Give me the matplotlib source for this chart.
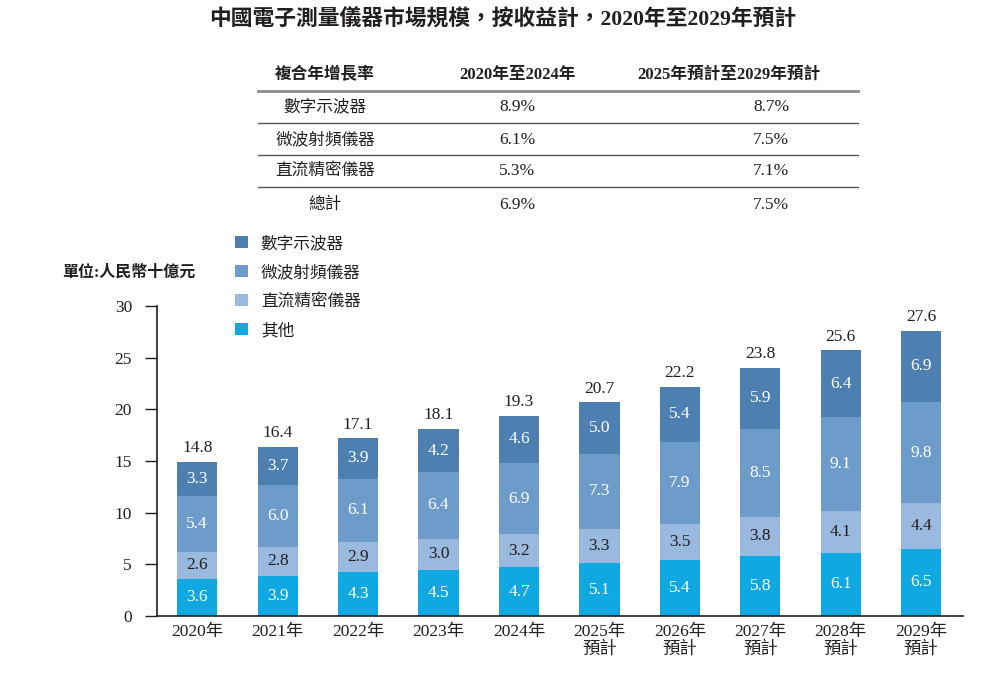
import matplotlib
matplotlib.use("Agg")
import matplotlib.pyplot as plt
from matplotlib.lines import Line2D
import numpy as np

FAM = ['Liberation Serif', 'Noto Sans CJK TC', 'DejaVu Sans']
plt.rcParams['font.family'] = FAM

years = ["2020年", "2021年", "2022年", "2023年", "2024年",
         "2025年\n預計", "2026年\n預計", "2027年\n預計", "2028年\n預計", "2029年\n預計"]
others = [3.6, 3.9, 4.3, 4.5, 4.7, 5.1, 5.4, 5.8, 6.1, 6.5]
dc_precision = [2.6, 2.8, 2.9, 3.0, 3.2, 3.3, 3.5, 3.8, 4.1, 4.4]
rf_microwave = [5.4, 6.0, 6.1, 6.4, 6.9, 7.3, 7.9, 8.5, 9.1, 9.8]
oscilloscope = [3.3, 3.7, 3.9, 4.2, 4.6, 5.0, 5.4, 5.9, 6.4, 6.9]
totals = [14.8, 16.4, 17.1, 18.1, 19.3, 20.7, 22.2, 23.8, 25.6, 27.6]

series_names = ["其他", "直流精密儀器", "微波射頻儀器", "數字示波器"]
colors = ["#0fa8e0", "#9ab9de", "#6e9cca", "#4d7fb0"]
text_colors = ["white", "#231f20", "white", "white"]

table_header = ["複合年增長率", "2020年至2024年", "2025年預計至2029年預計"]
table_rows = ["數字示波器", "微波射頻儀器", "直流精密儀器", "總計"]
cagr_hist = ["8.9%", "6.1%", "5.3%", "6.9%"]
cagr_fcst = ["8.7%", "7.5%", "7.1%", "7.5%"]

W, H = 999, 674
fig = plt.figure(figsize=(W / 100, H / 100), dpi=100)
TXT = "#231f20"

def fx(px):
    return px / W

def fy(py):
    return 1 - py / H

ax = fig.add_axes([fx(157), fy(616), fx(963) - fx(157), fy(306) - fy(616)])

x = np.arange(len(years))
bottom = np.zeros(len(years))
containers = []
for vals, name, col, tc in zip([others, dc_precision, rf_microwave, oscilloscope],
                               series_names, colors, text_colors):
    v = np.array(vals)
    bc = ax.bar(x, v, width=0.5, bottom=bottom, color=col, label=name, zorder=2)
    containers.append(bc)
    for xi, b, vi in zip(x, bottom, v):
        ax.text(xi, b + vi / 2, f"{vi:.1f}", ha="center", va="center",
                color=tc, fontsize=12.5)
    bottom = bottom + v

for xi, top, t in zip(x, bottom, totals):
    ax.annotate(f"{t:.1f}", (xi, top), xytext=(0, 4), textcoords="offset points",
                ha="center", va="bottom", color=TXT, fontsize=12.5)

ax.set_xlim(-0.5, 9.52)
ax.set_ylim(0, 30)
ax.set_yticks([0, 5, 10, 15, 20, 25, 30])
ax.set_xticks(x)
ax.set_xticklabels(years, fontsize=12.5, color=TXT, linespacing=1.1)
ax.tick_params(axis="x", length=0, pad=6)
ax.tick_params(axis="y", length=9, width=1, pad=9, labelsize=12.5, colors=TXT)
for s in ["top", "right"]:
    ax.spines[s].set_visible(False)
for s in ["left", "bottom"]:
    ax.spines[s].set_color(TXT)
    ax.spines[s].set_linewidth(1.2)

# legend
handles = containers[::-1]
labels = series_names[::-1]
fig.legend(handles, labels, loc="upper left", bbox_to_anchor=(fx(225), fy(226)),
           bbox_transform=fig.transFigure, frameon=False, fontsize=12,
           handlelength=0.75, handleheight=0.75, handletextpad=0.8,
           labelspacing=0.78, labelcolor=TXT, borderaxespad=0.2)

fig.text(fx(62), fy(273), "單位:人民幣十億元", fontsize=11.5, fontweight="bold",
         color=TXT, ha="left", va="center")

# title
fig.text(0.503, fy(20), "中國電子測量儀器市場規模，按收益計，2020年至2029年預計",
         fontsize=15.7, fontweight="bold", color=TXT, ha="center", va="center")

# table
col_x = [325, 517, 729]
val_x = [325, 517, 771]
for cx, htxt in zip(col_x, table_header):
    fig.text(fx(cx), fy(75), htxt, ha="center", va="center",
             fontsize=12, fontweight="bold", color=TXT)
row_y = [107, 140, 171, 205]
for ry, name, h, f in zip(row_y, table_rows, cagr_hist, cagr_fcst):
    fig.text(fx(val_x[0]), fy(ry), name, ha="center", va="center", fontsize=12, color=TXT)
    fig.text(fx(val_x[1]), fy(ry), h, ha="center", va="center", fontsize=12.5, color=TXT)
    fig.text(fx(val_x[2]), fy(ry), f, ha="center", va="center", fontsize=12.5, color=TXT)

fig.add_artist(Line2D([fx(258), fx(858)], [fy(91), fy(91)], color="#8a8a8a", lw=2.0))
for ly in [123, 155, 187]:
    fig.add_artist(Line2D([fx(258), fx(858)], [fy(ly), fy(ly)], color="#555555", lw=1.0))

fig.savefig("out.png", dpi=100)
